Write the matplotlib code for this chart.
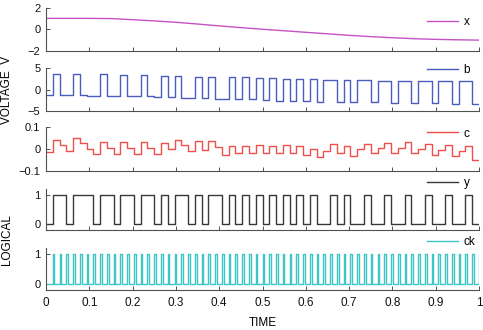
import numpy as np
import matplotlib
matplotlib.use("Agg")
import matplotlib.pyplot as plt

plt.rcParams['font.family'] = ['Liberation Sans', 'DejaVu Sans']

# input x, every 0.05 s
x_time = [0.0, 0.05, 0.1, 0.15, 0.2, 0.25, 0.3, 0.35, 0.4, 0.45, 0.5,
          0.55, 0.6, 0.65, 0.7, 0.75, 0.8, 0.85, 0.9, 0.95, 1.0]
x_vals = [1.0, 1.0, 1.0, 0.98, 0.88, 0.77, 0.64, 0.48, 0.31, 0.15, 0.0,
          -0.14, -0.28, -0.42, -0.56, -0.68, -0.78, -0.87, -0.93, -0.97, -1.0]

# clocked signals: one value per clock period (64 periods in 1 s)
clock_period = 1 / 64
ck_duty = 0.25

b_vals = [-1.3, 3.5, -1.3, -1.3, 3.5, -1.3, -1.4, -1.4, 3.5, -1.4,
          -1.5, 3.4, -1.5, -1.6, 3.3, -1.6, -1.8, 3.2, -1.8, 3.1,
          -1.9, -1.9, 3.0, -2.0, 3.0, -2.1, -2.1, 2.9, -2.3, 2.8,
          -2.3, 2.6, -2.4, 2.6, -2.6, 2.5, -2.6, 2.4, -2.7, 2.4,
          -2.8, 2.3, 2.3, -2.9, 2.2, -2.9, 2.1, 2.1, -3.0, 2.0,
          2.0, -3.1, 2.0, 2.0, -3.2, 1.9, 1.9, -3.2, 1.9, 1.9,
          -3.3, 1.9, 1.9, -3.3]

c_vals = [-0.015, 0.040, 0.017, -0.008, 0.048, 0.026, 0.002, -0.023, 0.030, 0.005,
          -0.023, 0.030, 0.003, -0.023, 0.030, 0.003, -0.023, 0.026, -0.002, 0.041,
          0.020, -0.008, 0.038, -0.003, 0.038, 0.010, -0.026, 0.012, -0.020, 0.015,
          -0.018, 0.016, -0.020, 0.014, -0.018, 0.016, -0.020, 0.012, -0.026, 0.000,
          -0.035, -0.008, 0.022, -0.020, 0.012, -0.030, -0.002, 0.025, -0.020, 0.005,
          0.028, -0.018, 0.005, 0.030, -0.020, 0.000, 0.025, -0.025, -0.005, 0.020,
          -0.030, -0.010, 0.012, -0.048]

y_bits = [0, 1, 1, 0, 1, 1, 1, 0, 1, 1,
          0, 1, 1, 0, 1, 1, 0, 1, 0, 1,
          1, 0, 1, 0, 1, 1, 0, 1, 0, 1,
          0, 1, 0, 1, 0, 1, 0, 1, 0, 1,
          0, 0, 1, 0, 1, 0, 0, 1, 0, 0,
          1, 0, 0, 1, 0, 0, 1, 0, 0, 1,
          0, 0, 1, 0]

xticks = [0, 0.1, 0.2, 0.3, 0.4, 0.5, 0.6, 0.7, 0.8, 0.9, 1]
xtick_labels = ['0', '0.1', '0.2', '0.3', '0.4', '0.5', '0.6', '0.7', '0.8', '0.9', '1']

n = len(y_bits)
edges = np.arange(n + 1) * clock_period

# clock pulses: rise at every clock edge, high for ck_duty of a period
ck_t = [0.0]
ck_v = [0]
for k in range(1, n + 1):
    ck_t += [k * clock_period, (k + ck_duty) * clock_period]
    ck_v += [1, 0]

W, H = 483, 330
fig = plt.figure(figsize=(W / 100, H / 100), dpi=100)

# panel extents in pixels (top, bottom)
panels_px = [(7.5, 51), (68, 111), (127, 171), (189, 230), (248, 290)]
left, right = 46, 479

axes = []
for top, bot in panels_px:
    ax = fig.add_axes([left / W, 1 - bot / H, (right - left) / W, (bot - top) / H])
    axes.append(ax)

gray = '#505050'
specs = [
    dict(name='x', color='#c452c4', ylim=(-2, 2), yt=[-2, 0, 2], ytl=['\u22122', '0', '2'], ly=0.67),
    dict(name='b', color='#4a5cbf', ylim=(-5, 5), yt=[-5, 0, 5], ytl=['\u22125', '0', '5'], ly=0.95),
    dict(name='c', color='#f0504c', ylim=(-0.1, 0.1), yt=[-0.1, 0, 0.1], ytl=['\u22120.1', '0', '0.1'], ly=0.85),
    dict(name='y', color='#383838', ylim=(-0.2, 1.2), yt=[0, 1], ytl=['0', '1'], ly=1.15),
    dict(name='ck', color='#3ec6c6', ylim=(-0.2, 1.2), yt=[0, 1], ytl=['0', '1'], ly=1.15),
]

lw = 1.0
axes[0].plot(x_time, x_vals, color=specs[0]['color'], lw=lw, label='x')
axes[1].step(edges, b_vals + [b_vals[-1]], where='post', color=specs[1]['color'], lw=lw, label='b')
axes[2].step(edges, c_vals + [c_vals[-1]], where='post', color=specs[2]['color'], lw=lw, label='c')
axes[3].step(edges, y_bits + [y_bits[-1]], where='post', color=specs[3]['color'], lw=lw, label='y')
axes[4].step(ck_t, ck_v, where='post', color=specs[4]['color'], lw=lw, label='ck')

for i, (ax, s) in enumerate(zip(axes, specs)):
    ax.set_xlim(0, 1)
    ax.set_ylim(*s['ylim'])
    ax.set_yticks(s['yt'])
    ax.set_yticklabels(s['ytl'])
    ax.set_xticks(xticks)
    if i == len(axes) - 1:
        ax.set_xticklabels(xtick_labels)
    else:
        ax.set_xticklabels([])
    for side in ['top', 'right']:
        ax.spines[side].set_visible(False)
    for side in ['left', 'bottom']:
        ax.spines[side].set_color(gray)
        ax.spines[side].set_linewidth(0.8)
    ax.tick_params(direction='in', length=3, width=0.7, color=gray, labelcolor='#111111')
    ax.tick_params(axis='y', labelsize=8, pad=4)
    ax.tick_params(axis='x', labelsize=8.5, pad=5)
    ax.legend(loc='center left', bbox_to_anchor=(0.881, s['ly']), frameon=False,
              borderpad=0, borderaxespad=0, handlelength=2.6, handletextpad=0.45,
              fontsize=8.5)
    ax.patch.set_alpha(0)

fig.text(7.5 / W, 1 - 89.5 / H, 'VOLTAGE  V', rotation=90, ha='center', va='center', fontsize=8.5)
fig.text(7.5 / W, 1 - 240 / H, 'LOGICAL', rotation=90, ha='center', va='center', fontsize=8.5)
fig.text(262.5 / W, 1 - 322.5 / H, 'TIME', ha='center', va='center', fontsize=8.5)

fig.savefig('out.png', dpi=100)
